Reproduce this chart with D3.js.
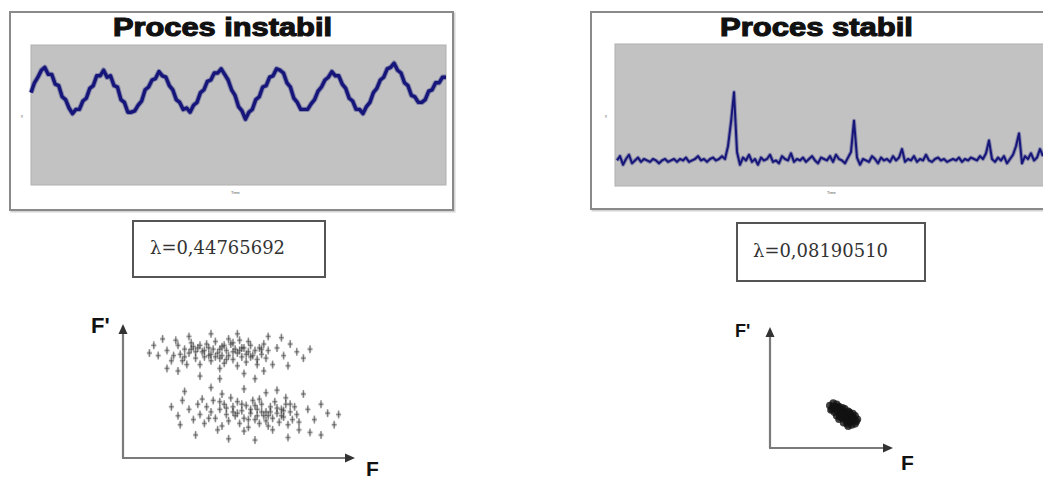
<!DOCTYPE html>
<html><head><meta charset="utf-8">
<script src="https://cdn.jsdelivr.net/npm/d3@7"></script>
<style>html,body{margin:0;padding:0;background:#fff;}svg{display:block;}</style>
</head><body>
<svg id="c" width="1043" height="481"></svg>
<script>
// ---------- DATA ----------
const titles = ["Proces instabil", "Proces stabil"];
const lambdaLabels = ["λ=0,44765692", "λ=0,08190510"];
const axisLabelsY = ["F'", "F'"];
const axisLabelsX = ["F", "F"];
const unstableSeries = [66,73,77,82,84,79,79,72,71,63,61,55,51,54,54,60,62,69,71,78,78,82,77,78,71,70,61,59,52,52,
  53,57,60,68,70,75,76,81,78,77,71,68,61,59,54,55,52,57,59,66,68,74,75,80,80,83,79,75,68,64,
  56,53,47,52,54,61,63,70,71,77,78,83,82,80,73,70,62,59,54,54,54,58,61,67,70,75,77,81,78,78,
  72,69,62,60,54,54,51,56,59,66,69,75,77,83,84,87,82,80,73,71,64,63,59,59,61,67,68,73,73,77,77];
// stable process signal
const stableSeries = [18,21,15,19,22,16,18,20,17,19, 18,17,19,18,16,18,19,17,18,19, 17,19,18,20,17,18,19,21,18,19,
  17,19,20,18,19,21,19,28,45,66, 24,15,20,18,22,17,19,15,20,18, 19,22,17,18,16,21,19,18,23,17,
  19,18,20,17,19,21,18,16,20,19, 18,21,17,22,19,18,16,20,24,46, 20,15,19,18,17,21,19,16,20,18,
  19,17,21,18,20,26,17,19,18,21, 17,19,18,22,18,17,19,20,18,19, 17,18,19,18,20,17,19,18,20,19,
  18,21,19,23,32,19,17,20,18,21, 16,19,22,28,37,16,21,19,23,18, 20,26,21];
// phase portrait, unstable (F, F')
const unstableUpper = [[20,84],[23,80],[25,88],[27,76],[28,85],[30,82],[31,90],[33,78],[34,86],[35,73],[36,83],[38,89],[39,80],[40,76],[41,85],[42,91],[43,82],[44,78],[45,87],[46,74],[47,84],[48,80],[49,89],[50,77],[51,85],[52,82],[53,92],[54,79],[55,86],[56,75],[57,83],[58,88],[59,80],[60,84],[61,77],[62,86],[63,81],[64,89],[65,78],[66,84],[22,76],[24,92],[26,81],[29,73],[32,87],[37,79],[44,70],[48,93],[52,72],[57,91],[61,73],[37,84],[42,79],[46,88],[50,83],[54,86],[40,81],[45,80],[33,83],[28,79],[58,79],[63,85],[35,88],[50,90],[44,85],[56,81],[39,86],[47,77],[53,84],[31,85],
  [14,88],[16,80],[18,93],[70,86],[73,80],[76,89],[79,83],[82,78],[68,73],[72,94],[25,68],[35,64],[44,62],[55,66],[60,62],[40,97],[66,95],[75,72],[30,95],[52,97],[85,85],[12,82],[20,70],[64,68]];
const unstableLower = [[30,38],[32,30],[34,42],[35,34],[37,27],[38,40],[40,36],[41,45],[42,31],[44,38],[45,25],[46,42],[47,34],[48,29],[50,40],[51,33],[52,44],[53,27],[54,37],[55,31],[56,41],[57,24],[58,35],[59,45],[60,30],[61,38],[62,27],[63,42],[64,33],[65,36],[66,25],[67,40],[68,31],[69,44],[70,35],[71,28],[72,38],[73,32],[74,42],[75,26],[76,36],[77,30],[78,40],[79,34],[80,28],[36,46],[43,22],[49,47],[55,21],[62,46],[68,22],[74,47],[58,38],[63,36],[66,33],[60,41],[70,39],[52,35],[47,39],[72,33],[65,29],[57,30],[44,44],[39,31],[76,42],[54,42],[50,36],[61,33],[67,36],[73,37],
  [22,40],[25,33],[27,45],[84,38],[87,30],[90,42],[93,35],[96,26],[85,20],[28,52],[40,55],[55,54],[70,53],[82,50],[33,18],[48,15],[60,14],[75,16],[90,18],[26,26],[98,34],[45,50],[65,51],[80,22]];
// phase portrait, stable
const stableBlob = [[52,37],[55,39],[58,38],[54,34],[57,35],[60,36],[63,35],[56,31],[59,32],[62,33],[65,34],[68,32],[58,28],[61,29],[64,30],[67,30],[70,29],[60,25],[63,26],[66,27],[69,26],[72,27],[74,28],[64,22],[67,23],[70,23],[73,24],[76,25],[68,19],[71,20],[74,21],[66,25],[62,31],[59,35],[65,28],[71,24],[55,36],[69,31],[61,27],[67,21],[75,23],[72,30],[53,33]];

// ---------- DRAW ----------
const svg = d3.select("#c");
const lineColor = "#16167a";

function panel(o) {
  const g = svg.append("g");
  g.append("rect").attr("x", o.bx+1.5).attr("y", o.by+1.5).attr("width", o.bw).attr("height", o.bh)
    .attr("fill", "none").attr("stroke", "#d4d4d4").attr("stroke-width", 2);
  g.append("rect").attr("x", o.bx).attr("y", o.by).attr("width", o.bw).attr("height", o.bh)
    .attr("fill", "#fff").attr("stroke", "#8a8a8a").attr("stroke-width", 2);
  g.append("rect").attr("x", o.px).attr("y", o.py).attr("width", o.pw).attr("height", o.ph)
    .attr("fill", "#c2c2c2").attr("stroke", "#b0b0b0").attr("stroke-width", 1);
  g.append("text").attr("x", o.tx).attr("y", 36).attr("font-family", "Liberation Sans, Arial, sans-serif")
    .attr("font-weight", "bold").attr("font-size", 25).attr("fill", "#111").attr("stroke", "#111")
    .attr("stroke-width", 1.1).attr("textLength", o.tw).attr("lengthAdjust", "spacingAndGlyphs").text(o.title);
  // tiny axis titles
  g.append("text").attr("x", o.px - 10).attr("y", 117).attr("font-size", 4).attr("fill", "#666")
    .attr("font-family", "Liberation Sans, sans-serif").text("y");
  g.append("text").attr("x", o.px + o.xlab).attr("y", 194).attr("font-size", 4).attr("fill", "#555")
    .attr("font-family", "Liberation Sans, sans-serif").text("Time");
  const x = d3.scaleLinear().domain([0, o.data.length - 1]).range([o.lx0, o.lx1]);
  const y = d3.scaleLinear().domain([0, 100]).range([o.py + o.ph, o.py]);
  const line = d3.line().x((d, i) => x(i)).y(d => y(d)).curve(d3.curveLinear);
  g.append("path").datum(o.data).attr("d", line).attr("fill", "none")
    .attr("stroke", lineColor).attr("stroke-width", o.sw + 2).attr("stroke-linejoin", "round").attr("opacity", 0.35);
  g.append("path").datum(o.data).attr("d", line).attr("fill", "none")
    .attr("stroke", lineColor).attr("stroke-width", o.sw).attr("stroke-linejoin", "round");
}

panel({bx: 10, by: 12, bw: 443, bh: 198, px: 31, py: 45, pw: 415, ph: 140, tx: 113, tw: 219,
  title: titles[0], data: unstableSeries, lx0: 31, lx1: 446, sw: 3.4, xlab: 200});
panel({bx: 591, by: 12, bw: 470, bh: 197, px: 615, py: 44, pw: 440, ph: 142, tx: 720, tw: 193,
  title: titles[1], data: stableSeries, lx0: 617, lx1: 1043, sw: 2, xlab: 212});

// lambda boxes
function lambdaBox(x0, y0, w, h, tx, ty, tw, label) {
  svg.append("rect").attr("x", x0).attr("y", y0).attr("width", w).attr("height", h)
    .attr("fill", "#fff").attr("stroke", "#555").attr("stroke-width", 2);
  svg.append("text").attr("x", tx).attr("y", ty).attr("font-family", "DejaVu Serif, serif")
    .attr("font-size", 18).attr("fill", "#333").attr("textLength", tw).attr("lengthAdjust", "spacingAndGlyphs")
    .text(label);
}
lambdaBox(133, 221, 192, 56, 150, 254, 135, lambdaLabels[0]);
lambdaBox(737, 223, 188, 58, 753, 257, 135, lambdaLabels[1]);

// phase portraits
function portrait(o) {
  const g = svg.append("g");
  const x = d3.scaleLinear().domain([0, 100]).range([o.ox, o.ox + o.w]);
  const y = d3.scaleLinear().domain([0, 100]).range([o.oy, o.oy - o.h]);
  g.append("line").attr("x1", o.ox).attr("y1", o.oy).attr("x2", o.ox).attr("y2", o.ty + 6)
    .attr("stroke", "#7a7a7a").attr("stroke-width", 2.2);
  g.append("line").attr("x1", o.ox - 1).attr("y1", o.oy).attr("x2", o.tx - 6).attr("y2", o.oy)
    .attr("stroke", "#7a7a7a").attr("stroke-width", 2.2);
  g.append("path").attr("d", `M${o.ox},${o.ty} L${o.ox - 4.5},${o.ty + 10} L${o.ox + 4.5},${o.ty + 10} Z`).attr("fill", "#333");
  g.append("path").attr("d", `M${o.tx},${o.oy} L${o.tx - 10},${o.oy - 4.5} L${o.tx - 10},${o.oy + 4.5} Z`).attr("fill", "#333");
  g.append("text").attr("x", o.fyx).attr("y", o.fyy).attr("font-family", "Liberation Sans, Arial, sans-serif")
    .attr("font-weight", "bold").attr("font-size", o.fys).attr("fill", "#111").text(o.ly);
  g.append("text").attr("x", o.fxx).attr("y", o.fxy).attr("font-family", "Liberation Sans, Arial, sans-serif")
    .attr("font-weight", "bold").attr("font-size", 21).attr("fill", "#111").text(o.lx);
  o.sets.forEach(s => {
    if (s.kind === "cross") {
      const sel = g.selectAll(null).data(s.pts).enter().append("g")
        .attr("transform", d => `translate(${x(d[0])},${y(d[1])})`);
      sel.append("circle").attr("r", 2.6).attr("fill", "#444").attr("fill-opacity", 0.18);
      sel.append("line").attr("x1", 0).attr("x2", 0).attr("y1", -4).attr("y2", 4)
        .attr("stroke", "#222").attr("stroke-opacity", 0.5).attr("stroke-width", 1.5);
      sel.append("line").attr("x1", -2.5).attr("x2", 2.5).attr("y1", 0).attr("y2", 0)
        .attr("stroke", "#222").attr("stroke-opacity", 0.4).attr("stroke-width", 1.4);
    } else {
      g.selectAll(null).data(s.pts).enter().append("circle")
        .attr("cx", d => x(d[0])).attr("cy", d => y(d[1])).attr("r", 3.8)
        .attr("fill", "#111").attr("fill-opacity", 0.8);
    }
  });
}
portrait({ox: 123, oy: 458, w: 220, h: 128, ty: 324, tx: 355, fyx: 91, fyy: 333, fys: 22, fxx: 366, fxy: 476,
  ly: axisLabelsY[0], lx: axisLabelsX[0], sets: [{kind: "cross", pts: unstableUpper}, {kind: "cross", pts: unstableLower}]});
portrait({ox: 770, oy: 448, w: 115, h: 115, ty: 327, tx: 893, fyx: 735, fyy: 337, fys: 18, fxx: 901, fxy: 470,
  ly: axisLabelsY[1], lx: axisLabelsX[1], sets: [{kind: "blob", pts: stableBlob}]});
</script>
</body></html>
